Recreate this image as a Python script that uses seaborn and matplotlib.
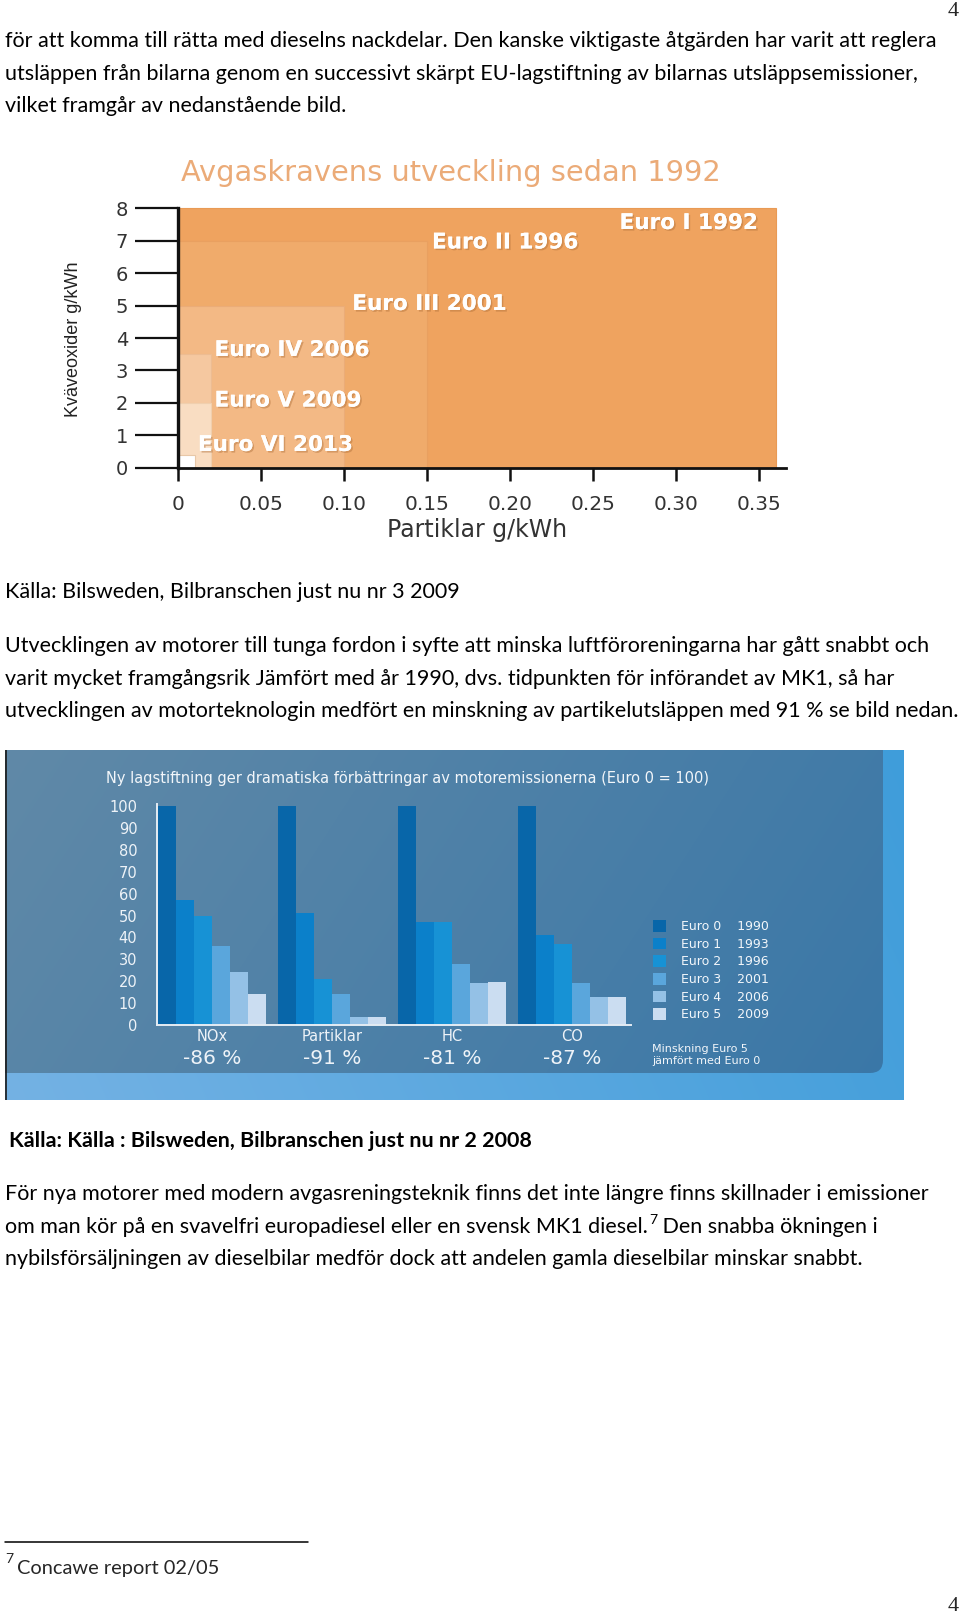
import numpy as np
import pandas as pd
import matplotlib
matplotlib.use("Agg")
import matplotlib.pyplot as plt
import seaborn as sns
from matplotlib.patches import FancyBboxPatch, Patch
from matplotlib import font_manager
import matplotlib.patheffects as pe

# ---------------- data ----------------
stage_labels = ["Euro I 1992", "Euro II 1996", "Euro III 2001",
                "Euro IV 2006", "Euro V 2009", "Euro VI 2013"]
pm_limits = [0.36, 0.15, 0.10, 0.02, 0.02, 0.01]      # Partiklar g/kWh
nox_limits = [8.0, 7.0, 5.0, 3.5, 2.0, 0.4]           # Kväveoxider g/kWh
stage_colors = ["#EFA35F", "#F0AB6B", "#F3B985", "#F5C8A0", "#F9DDC2", "#FFFFFF"]
x_ticks1 = [0, 0.05, 0.10, 0.15, 0.20, 0.25, 0.30, 0.35]
x_ticklabels1 = ["0", "0.05", "0.10", "0.15", "0.20", "0.25", "0.30", "0.35"]
y_ticks1 = [0, 1, 2, 3, 4, 5, 6, 7, 8]

pollutants = ["NOx", "Partiklar", "HC", "CO"]
euro_levels = ["Euro 0", "Euro 1", "Euro 2", "Euro 3", "Euro 4", "Euro 5"]
euro_years = ["1990", "1993", "1996", "2001", "2006", "2009"]
nox_vals = [100, 57, 50, 36, 24, 14]
pm_vals = [100, 51, 21, 14, 3.5, 3.5]
hc_vals = [100, 47, 47, 28, 19, 19.5]
co_vals = [100, 41, 37, 19, 13, 13]
reductions = ["-86 %", "-91 %", "-81 %", "-87 %"]
bar_colors = ["#0866A9", "#0B80CA", "#1792D5", "#5AA6DC", "#94C1E6", "#CBDDF1"]
y_ticks2 = list(range(0, 101, 10))

para1 = ["för att komma till rätta med dieselns nackdelar. Den kanske viktigaste åtgärden har varit att reglera",
         "utsläppen från bilarna genom en successivt skärpt EU-lagstiftning av bilarnas utsläppsemissioner,",
         "vilket framgår av nedanstående bild."]
caption1 = "Källa: Bilsweden, Bilbranschen just nu nr 3 2009"
para2 = ["Utvecklingen av motorer till tunga fordon i syfte att minska luftföroreningarna har gått snabbt och",
         "varit mycket framgångsrik Jämfört med år 1990, dvs. tidpunkten för införandet av MK1, så har",
         "utvecklingen av motorteknologin medfört en minskning av partikelutsläppen med 91 % se bild nedan."]
caption2 = "Källa: Källa : Bilsweden, Bilbranschen just nu nr 2 2008"
para3_l1 = "För nya motorer med modern avgasreningsteknik finns det inte längre finns skillnader i emissioner"
para3_l2a = "om man kör på en svavelfri europadiesel eller en svensk MK1 diesel."
para3_l2b = " Den snabba ökningen i"
para3_l3 = "nybilsförsäljningen av dieselbilar medför dock att andelen gamla dieselbilar minskar snabbt."
footnote = "Concawe report 02/05"

# ---------------- setup ----------------
sns.set_theme(style="white")
W, H = 960, 1619
fig = plt.figure(figsize=(W / 100, H / 100), dpi=100)
fig.patch.set_facecolor("white")
renderer = fig.canvas.get_renderer()

names = {f.name for f in font_manager.fontManager.ttflist}
body_font = "Liberation Sans Narrow" if "Liberation Sans Narrow" in names else "Lato"


def fy(y):
    return 1 - y / H


def ax_px(left, top, w, h, **kw):
    return fig.add_axes([left / W, 1 - (top + h) / H, w / W, h / H], **kw)


def text_width(s, size, family, weight="normal"):
    t = fig.text(0, 0, s, fontsize=size, family=family, weight=weight)
    w = t.get_window_extent(renderer).width
    t.remove()
    return w


# body font size fitted to line widths
s1 = 14 * 934 / text_width(para1[0], 14, body_font)
s2 = 14 * 952 / text_width(para2[2], 14, body_font)
s3 = 14 * 925 / text_width(para3_l1, 14, body_font)
body_size = (s1 + s2 + s3) / 3
txt_kw = dict(family=body_font, fontsize=body_size, color="black", va="baseline", ha="left")

for line, yb in zip(para1, [47, 79.5, 112]):
    fig.text(5 / W, fy(yb), line, **txt_kw)
fig.text(5 / W, fy(598), caption1, **txt_kw)
for line, yb in zip(para2, [652, 685, 717]):
    fig.text(5 / W, fy(yb), line, **txt_kw)
fig.text(9 / W, fy(1147), caption2, weight="bold", **txt_kw)
fig.text(5 / W, fy(1200), para3_l1, **txt_kw)
t_a = fig.text(5 / W, fy(1233), para3_l2a, **txt_kw)
xa = t_a.get_window_extent(renderer).x1
t_sup = fig.text((xa + 1) / W, fy(1224), "7", family=body_font, fontsize=body_size * 0.65,
                 color="black", va="baseline", ha="left")
xs = t_sup.get_window_extent(renderer).x1
fig.text(xs / W, fy(1233), para3_l2b, **txt_kw)
fig.text(5 / W, fy(1265), para3_l3, **txt_kw)

# footnote
fig.add_artist(plt.Line2D([5 / W, 308 / W], [fy(1542), fy(1542)], color="black", lw=1.1,
                          transform=fig.transFigure))
fig.text(5 / W, fy(1563), "7", family=body_font, fontsize=body_size * 0.65, va="baseline")
fig.text(17 / W, fy(1574), footnote, family=body_font, fontsize=body_size * 0.93, va="baseline")

# page numbers
fig.text(959 / W, fy(12), "4", family="Liberation Serif", fontsize=16, ha="right", va="center")
fig.text(959 / W, fy(1606), "4", family="Liberation Serif", fontsize=16, ha="right", va="center")

# ---------------- chart 1 ----------------
px_per_x = 1660.0
px_per_y = 32.4
x0_px, y0_px = 178, 467.6
xmax1, ymax1 = 0.366, 8.05
ax1 = ax_px(x0_px, y0_px - ymax1 * px_per_y, xmax1 * px_per_x, ymax1 * px_per_y)
ax1.set_facecolor("none")
edge_cols = ["#E99A55", "#E9A060", "#EBAC78", "#EDBC92", "#F0CFAE", "#E8C8A8"]
for i in range(len(stage_labels)):
    ax1.bar(0, nox_limits[i], width=pm_limits[i], align="edge", color=stage_colors[i],
            edgecolor=edge_cols[i], linewidth=0.8, zorder=2 + i)
label_pos = [(0.266, 7.55), (0.153, 6.95), (0.105, 5.05), (0.022, 3.63), (0.022, 2.07), (0.012, 0.70)]
for lab, (lx, ly) in zip(stage_labels, label_pos):
    ax1.text(lx, ly, lab, color="white", fontsize=15.5, weight="bold", family="DejaVu Sans",
             ha="left", va="center", zorder=20,
             path_effects=[pe.withSimplePatchShadow(offset=(1.2, -1.2), shadow_rgbFace="#B0703A", alpha=0.45),
                           pe.Normal()])
ax1.set_xlim(0, xmax1)
ax1.set_ylim(0, ymax1)
ax1.set_xticks(x_ticks1)
ax1.set_xticklabels(x_ticklabels1)
ax1.set_yticks(y_ticks1)
ax1.set_yticklabels([str(v) for v in y_ticks1])
for sp in ["top", "right"]:
    ax1.spines[sp].set_visible(False)
ax1.spines["left"].set_color("#111111")
ax1.spines["left"].set_linewidth(2.4)
ax1.spines["left"].set_bounds(0, 8)
ax1.spines["bottom"].set_color("#111111")
ax1.spines["bottom"].set_linewidth(2.0)
ax1.spines["left"].set_zorder(30)
ax1.spines["bottom"].set_zorder(30)
ax1.tick_params(axis="y", direction="out", length=31, width=1.6, color="#111111",
                labelsize=14, labelcolor="#333333", pad=5, left=True)
ax1.tick_params(axis="x", direction="out", length=9.5, width=1.8, color="#111111",
                labelsize=14.5, labelcolor="#333333", pad=10, bottom=True)
for lab in ax1.get_xticklabels() + ax1.get_yticklabels():
    lab.set_family("DejaVu Sans")
ax1.grid(False)
fig.text(451 / W, fy(173), "Avgaskravens utveckling sedan 1992", color="#EBAB78",
         fontsize=20.8, family="DejaVu Sans", ha="center", va="center")
fig.text(477 / W, fy(530), "Partiklar g/kWh", color="#333333", fontsize=17,
         family="DejaVu Sans", ha="center", va="center")
fig.text(74 / W, fy(339), "Kväveoxider g/kWh", color="#222222", fontsize=13,
         family="Liberation Sans", ha="center", va="center", rotation=90)

# ---------------- chart 2 background ----------------
bg = ax_px(5, 750, 899, 350)
bg.set_xlim(0, 899)
bg.set_ylim(350, 0)
bg.axis("off")


def hex2rgb(h):
    h = h.lstrip("#")
    return np.array([int(h[i:i + 2], 16) / 255 for i in (0, 2, 4)])


nx, ny = 300, 120
X, Y = np.meshgrid(np.linspace(0, 1, nx), np.linspace(0, 1, ny))
t_out = np.clip(0.85 * X + 0.15 * (1 - Y), 0, 1)[..., None]
outer = hex2rgb("#74B2E4") * (1 - t_out) + hex2rgb("#3F9DDA") * t_out
bg.imshow(outer, extent=(0, 899, 350, 0), aspect="auto", interpolation="bilinear", zorder=0)
t_in = np.clip(0.8 * X + 0.2 * Y, 0, 1)[..., None]
inner = hex2rgb("#6089A8") * (1 - t_in) + hex2rgb("#3977A7") * t_in
panel = FancyBboxPatch((-30, -30), 908, 353, boxstyle="round,pad=0,rounding_size=13",
                       facecolor="none", edgecolor="none")
bg.add_patch(panel)
im = bg.imshow(inner, extent=(0, 899, 350, 0), aspect="auto", interpolation="bilinear", zorder=1)
im.set_clip_path(panel)
bg.plot([0.8, 0.8], [0, 350], color="#1A1A1A", lw=1.2, zorder=3)
bg.set_xlim(0, 899)
bg.set_ylim(350, 0)

# ---------------- chart 2 bars ----------------
df = pd.DataFrame({
    "pollutant": np.repeat(pollutants, len(euro_levels)),
    "euro": euro_levels * len(pollutants),
    "value": nox_vals + pm_vals + hc_vals + co_vals,
})
x_unit = 120.0
y_unit = 2.19
xl, xr = -0.46, 3.49
yt = 101
ax2 = ax_px(212 + xl * x_unit, 1025 - yt * y_unit, (xr - xl) * x_unit, yt * y_unit)
ax2.set_facecolor("none")
sns.barplot(data=df, x="pollutant", y="value", hue="euro", order=pollutants,
            hue_order=euro_levels, palette=bar_colors, width=0.9, saturation=1,
            errorbar=None, legend=False, ax=ax2, linewidth=0)
ax2.set_xlim(xl, xr)
ax2.set_ylim(0, yt)
ax2.set_xlabel("")
ax2.set_ylabel("")
ax2.set_yticks(y_ticks2)
ax2.set_yticklabels([str(v) for v in y_ticks2])
for sp in ["top", "right"]:
    ax2.spines[sp].set_visible(False)
for sp in ["left", "bottom"]:
    ax2.spines[sp].set_color("#E4ECF4")
    ax2.spines[sp].set_linewidth(1.4)
ax2.tick_params(axis="y", length=0, labelsize=10.5, labelcolor="#EEF3F8", pad=14)
ax2.tick_params(axis="x", length=0, labelsize=10.5, labelcolor="#EEF3F8", pad=3)
for lab in ax2.get_xticklabels() + ax2.get_yticklabels():
    lab.set_family("DejaVu Sans")
ax2.grid(False)
for i, r in enumerate(reductions):
    ax2.text(i, (1025 - 1058) / y_unit, r, color="#EEF3F8", fontsize=14.5, family="DejaVu Sans",
             ha="center", va="center", clip_on=False)

handles = [Patch(facecolor=c, edgecolor="none") for c in bar_colors]
labels = [f"{e}    {y}" for e, y in zip(euro_levels, euro_years)]
leg = ax2.legend(handles, labels, loc="upper left", bbox_to_anchor=(653 / W, fy(920)),
                 bbox_transform=fig.transFigure, frameon=False, fontsize=9,
                 labelcolor="#F2F6FA", handlelength=1.07, handleheight=1.07,
                 handletextpad=1.15, labelspacing=0.36, borderaxespad=0, borderpad=0)
for t in leg.get_texts():
    t.set_family("DejaVu Sans")

fig.text(106 / W, fy(778), "Ny lagstiftning ger dramatiska förbättringar av motoremissionerna (Euro 0 = 100)",
         color="#F2F6FA", fontsize=10.5, family="DejaVu Sans", ha="left", va="center")
fig.text(652 / W, fy(1049), "Minskning Euro 5", color="#F2F6FA", fontsize=8,
         family="DejaVu Sans", ha="left", va="center")
fig.text(652 / W, fy(1061), "jämfört med Euro 0", color="#F2F6FA", fontsize=8,
         family="DejaVu Sans", ha="left", va="center")

fig.savefig("out.png", dpi=100, facecolor="white")
